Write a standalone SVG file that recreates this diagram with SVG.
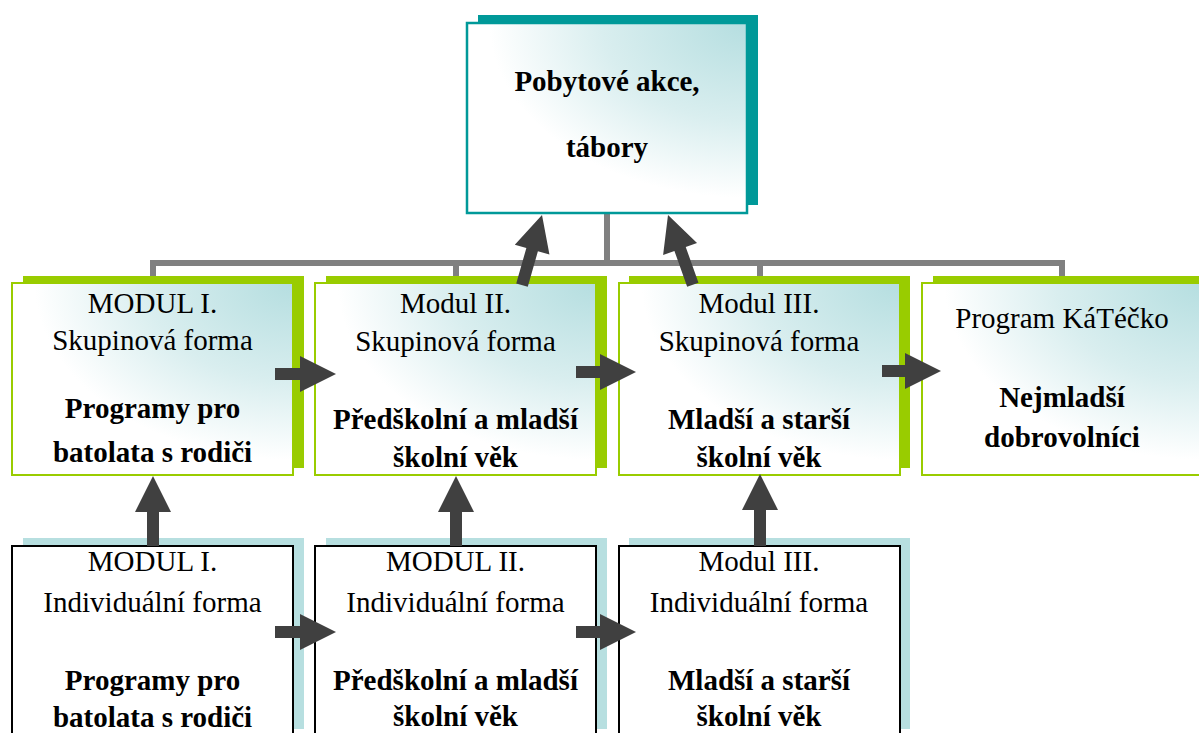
<svg xmlns="http://www.w3.org/2000/svg" width="1199" height="733" viewBox="0 0 1199 733">
<defs>
<radialGradient id="g" cx="1" cy="0" r="1.15" fx="1" fy="0">
<stop offset="0" stop-color="#b5dee0"/>
<stop offset="0.45" stop-color="#d9eeef"/>
<stop offset="0.8" stop-color="#ffffff"/>
<stop offset="1" stop-color="#ffffff"/>
</radialGradient>
</defs>
<style>
.t{font-family:"Liberation Serif","Times New Roman",serif;font-size:29px;fill:#000;text-anchor:middle}
.b{font-weight:bold}
.tsh{fill:#009999}
.tfr{fill:url(#g);stroke:#009999;stroke-width:2.5}
.gsh{fill:#99cc00}
.gfr{fill:url(#g);stroke:#99cc00;stroke-width:2}
.bsh{fill:#b7dfe0}
.bfr{fill:#ffffff;stroke:#000;stroke-width:2}
.ln{stroke:#808080;stroke-width:6;fill:none}
.ar{fill:#404040}
</style>
<rect width="1199" height="733" fill="#ffffff"/>
<g id="lines">
<path class="ln" d="M607,213 V263 M153,277 V263 H1062 V277 M456,263 V277 M760,263 V277"/>
</g>
<g id="top">
<rect class="tsh" x="478" y="15" width="280" height="190"/>
<rect class="tfr" x="467" y="23" width="280" height="190"/>
<text class="t b" x="607" y="91">Pobytové akce,</text>
<text class="t b" x="607" y="157">tábory</text>
</g>
<g id="m1">
<rect class="gsh" x="23" y="276" width="281" height="192"/>
<rect class="gfr" x="12" y="283" width="281" height="192"/>
<text class="t" x="152.5" y="313">MODUL I.</text>
<text class="t" x="152.5" y="350">Skupinová forma</text>
<text class="t b" x="152.5" y="418">Programy pro</text>
<text class="t b" x="152.5" y="462">batolata s rodiči</text>
</g>
<g id="m2">
<rect class="gsh" x="326" y="276" width="281" height="192"/>
<rect class="gfr" x="315" y="283" width="281" height="192"/>
<text class="t" x="455.5" y="313">Modul II.</text>
<text class="t" x="455.5" y="351">Skupinová forma</text>
<text class="t b" x="455.5" y="429">Předškolní a mladší</text>
<text class="t b" x="455.5" y="467">školní věk</text>
</g>
<g id="m3">
<rect class="gsh" x="629" y="276" width="281" height="192"/>
<rect class="gfr" x="619" y="283" width="281" height="192"/>
<text class="t" x="759" y="313">Modul III.</text>
<text class="t" x="759" y="351">Skupinová forma</text>
<text class="t b" x="759" y="429">Mladší a starší</text>
<text class="t b" x="759" y="467">školní věk</text>
</g>
<g id="m4">
<rect class="gsh" x="933" y="276" width="281" height="192"/>
<rect class="gfr" x="922" y="283" width="281" height="192"/>
<text class="t" x="1062" y="328">Program KáTéčko</text>
<text class="t b" x="1062" y="407">Nejmladší</text>
<text class="t b" x="1062" y="447">dobrovolníci</text>
</g>
<g id="b1">
<rect class="bsh" x="23" y="538" width="281" height="191"/>
<rect class="bfr" x="12" y="546" width="281" height="195"/>
<text class="t" x="152.5" y="571">MODUL I.</text>
<text class="t" x="152.5" y="612">Individuální forma</text>
<text class="t b" x="152.5" y="690">Programy pro</text>
<text class="t b" x="152.5" y="727">batolata s rodiči</text>
</g>
<g id="b2">
<rect class="bsh" x="326" y="538" width="281" height="191"/>
<rect class="bfr" x="315" y="546" width="281" height="195"/>
<text class="t" x="455.5" y="571">MODUL II.</text>
<text class="t" x="455.5" y="612">Individuální forma</text>
<text class="t b" x="455.5" y="690">Předškolní a mladší</text>
<text class="t b" x="455.5" y="726">školní věk</text>
</g>
<g id="b3">
<rect class="bsh" x="629" y="538" width="281" height="191"/>
<rect class="bfr" x="619" y="546" width="281" height="195"/>
<text class="t" x="759" y="571">Modul III.</text>
<text class="t" x="759" y="612">Individuální forma</text>
<text class="t b" x="759" y="690">Mladší a starší</text>
<text class="t b" x="759" y="726">školní věk</text>
</g>
<g id="arrows">
<polygon class="ar" transform="translate(542,215) rotate(15.9)" points="0,0 18,36 6,36 6,73 -6,73 -6,36 -18,36"/>
<polygon class="ar" transform="translate(668,215) rotate(-19.6)" points="0,0 18,36 6,36 6,74 -6,74 -6,36 -18,36"/>
<polygon class="ar" transform="translate(153,476)" points="0,0 18,36 6,36 6,70 -6,70 -6,36 -18,36"/>
<polygon class="ar" transform="translate(456,476)" points="0,0 18,36 6,36 6,70 -6,70 -6,36 -18,36"/>
<polygon class="ar" transform="translate(760,474)" points="0,0 18,36 6,36 6,72 -6,72 -6,36 -18,36"/>
<polygon class="ar" transform="translate(336,374) rotate(90)" points="0,0 18,36 6,36 6,61 -6,61 -6,36 -18,36"/>
<polygon class="ar" transform="translate(636,372) rotate(90)" points="0,0 18,36 6,36 6,60 -6,60 -6,36 -18,36"/>
<polygon class="ar" transform="translate(941,371) rotate(90)" points="0,0 18,36 6,36 6,59 -6,59 -6,36 -18,36"/>
<polygon class="ar" transform="translate(336,632) rotate(90)" points="0,0 18,36 6,36 6,61 -6,61 -6,36 -18,36"/>
<polygon class="ar" transform="translate(636,632) rotate(90)" points="0,0 18,36 6,36 6,60 -6,60 -6,36 -18,36"/>
</g>
</svg>
